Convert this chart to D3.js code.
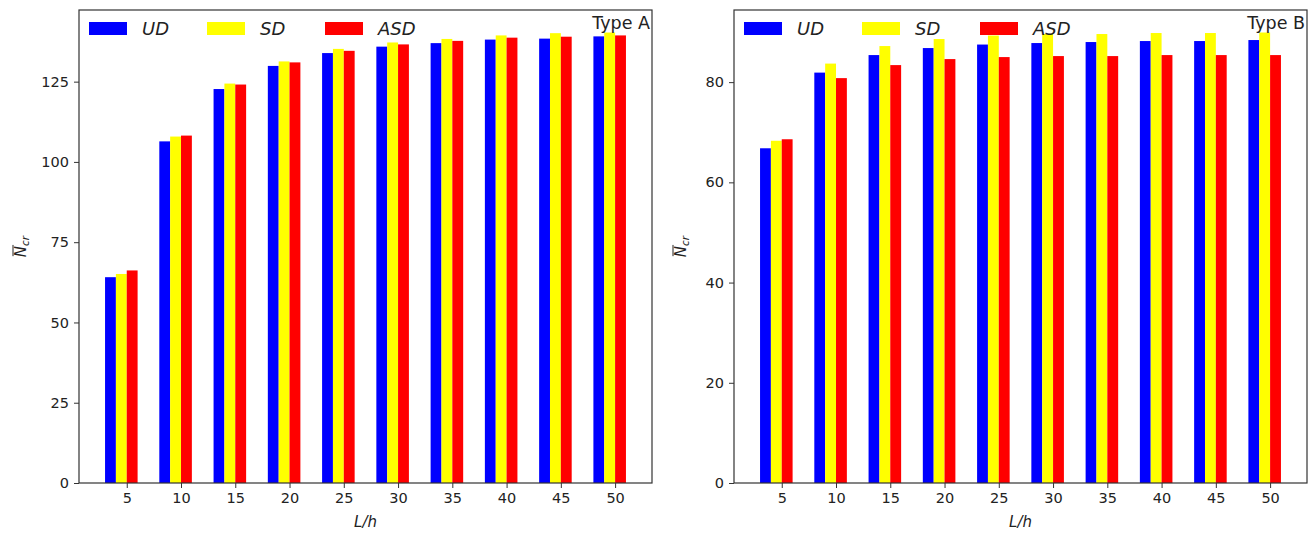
<!DOCTYPE html>
<html>
<head>
<meta charset="utf-8">
<script src="https://cdn.jsdelivr.net/npm/d3@7"></script>
<style>
  body { margin: 0; background: #fff; }
  text { font-family: "DejaVu Sans", sans-serif; fill: #222; }
</style>
</head>
<body>
<script>
// L/h categories
const lh = [5, 10, 15, 20, 25, 30, 35, 40, 45, 50];
const seriesNames = ["UD", "SD", "ASD"];
const seriesColors = ["#0000ff", "#ffff00", "#ff0000"];

// Type A values
const udA  = [64.1, 106.4, 122.7, 129.9, 133.9, 135.9, 137.0, 138.1, 138.4, 139.1];
const sdA  = [65.1, 107.9, 124.4, 131.3, 135.2, 137.2, 138.3, 139.4, 140.1, 140.3];
const asdA = [66.2, 108.2, 124.1, 131.0, 134.6, 136.6, 137.7, 138.7, 139.0, 139.4];

// Type B values
const udB  = [66.8, 81.9, 85.4, 86.8, 87.5, 87.8, 88.0, 88.2, 88.2, 88.4];
const sdB  = [68.3, 83.7, 87.2, 88.6, 89.3, 89.6, 89.6, 89.8, 89.8, 89.9];
const asdB = [68.6, 80.8, 83.4, 84.6, 85.0, 85.2, 85.2, 85.4, 85.4, 85.4];

const yTicksA = [0, 25, 50, 75, 100, 125];
const yTicksB = [0, 20, 40, 60, 80];

const W = 1316, H = 534;
const plotTop = 10, plotBottom = 483;

const svg = d3.select("body").append("svg")
  .attr("width", W).attr("height", H);

const panels = [
  { left: 79, right: 652, title: "Type A", data: [udA, sdA, asdA], ticks: yTicksA, ylab: 53 },
  { left: 734, right: 1307, title: "Type B", data: [udB, sdB, asdB], ticks: yTicksB, ylab: 48 }
];

panels.forEach(p => {
  const g = svg.append("g");
  const ymax = d3.max(p.data.flat()) * 1.05;
  const x = d3.scaleLinear().domain([0.6, 53.4]).range([p.left, p.right]);
  const y = d3.scaleLinear().domain([0, ymax]).range([plotBottom, plotTop]);

  // bars: blue [v-2, v-1], yellow [v-1, v], red [v, v+1]
  p.data.forEach((vals, i) => {
    g.selectAll(null)
      .data(vals)
      .join("rect")
        .attr("x", (d, k) => x(lh[k] + i - 2))
        .attr("width", (d, k) => x(lh[k] + i - 1) - x(lh[k] + i - 2))
        .attr("y", d => y(d))
        .attr("height", d => y(0) - y(d))
        .attr("fill", seriesColors[i]);
  });

  // axes
  const ax = g.append("g").attr("transform", `translate(0,${plotBottom})`)
    .call(d3.axisBottom(x).tickValues(lh).tickSize(5).tickPadding(5));
  const ay = g.append("g").attr("transform", `translate(${p.left},0)`)
    .call(d3.axisLeft(y).tickValues(p.ticks).tickSize(5).tickPadding(5));
  [ax, ay].forEach(a => {
    a.select(".domain").remove();
    a.selectAll("line").attr("stroke", "#333");
    a.selectAll("text").attr("font-size", "14.5px").attr("fill", "#222")
      .attr("font-family", "DejaVu Sans, sans-serif");
  });

  // frame
  g.append("rect")
    .attr("x", p.left).attr("y", plotTop)
    .attr("width", p.right - p.left).attr("height", plotBottom - plotTop)
    .attr("fill", "none").attr("stroke", "#333").attr("stroke-width", 1.2);

  // legend
  seriesNames.forEach((s, i) => {
    const lx = p.left + 10 + i * 118;
    g.append("rect").attr("x", lx).attr("y", 22).attr("width", 38).attr("height", 13)
      .attr("fill", seriesColors[i]);
    g.append("text").attr("x", lx + 53).attr("y", 35)
      .attr("font-size", "18px").attr("font-style", "italic").text(s);
  });

  // title
  g.append("text").attr("x", p.right - 2).attr("y", 29)
    .attr("text-anchor", "end").attr("font-size", "17.5px").text(p.title);

  // x label
  g.append("text").attr("x", (p.left + p.right) / 2).attr("y", 527)
    .attr("text-anchor", "middle").attr("font-size", "15px").attr("font-style", "italic")
    .text("L/h");

  // y label: overline N with subscript cr
  const yl = g.append("g")
    .attr("transform", `translate(${p.left - p.ylab},${(plotTop + plotBottom) / 2}) rotate(-90)`);
  const t = yl.append("text").attr("text-anchor", "middle").attr("font-size", "15px");
  t.append("tspan").attr("font-style", "italic").text("N");
  t.append("tspan").attr("font-style", "italic").attr("font-size", "10.5px")
    .attr("dy", 3).text("cr");
  const nLen = t.node().getSubStringLength(0, 1);
  const box = t.node().getBBox();
  yl.append("line")
    .attr("x1", box.x + 1).attr("x2", box.x + nLen + 1)
    .attr("y1", -13).attr("y2", -13)
    .attr("stroke", "#222").attr("stroke-width", 1);
});
</script>
</body>
</html>
